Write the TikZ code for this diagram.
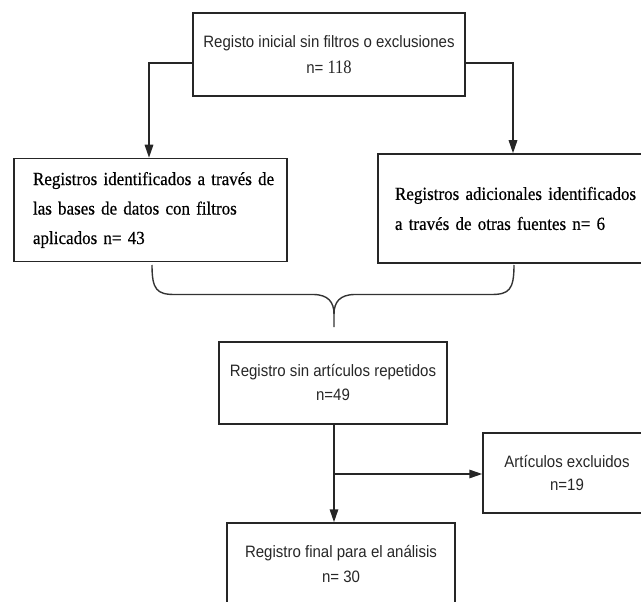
\documentclass[tikz,border=0pt]{standalone}
\usepackage{fontspec}
\usetikzlibrary{arrows.meta}
\newfontfamily\sansf[FakeStretch=0.91]{Liberation Sans}
\newfontfamily\seriff[FakeStretch=0.92,WordSpace=0.7,FakeBold=0.5]{Liberation Serif}
\newfontfamily\digitf[FakeStretch=0.87]{Liberation Serif}
\begin{document}
\begin{tikzpicture}[x=1pt,y=-1pt,
  box/.style={draw=black!85, line width=1.5pt, inner sep=0pt, align=center},
  sbox/.style={box, font=\sansf\fontsize{16.5}{24}\selectfont, text=black!85},
  tbox/.style={box, font=\seriff\fontsize{18.5}{29.5}\selectfont, align=left},
  arr/.style={draw=black!85, line width=1.5pt, -{Triangle[length=13pt,width=8.5pt]}},
  brace/.style={draw=black!80, line width=1.4pt}]
\clip (0,0) rectangle (641,602);
% boxes
\node[sbox, minimum width=272pt, minimum height=83pt,
      font=\sansf\fontsize{16.5}{26}\selectfont] (top) at (329,54.5)
  {Registo inicial sin filtros o exclusiones\\n= {\digitf\fontsize{19}{26}\selectfont 118}};
\node[tbox, minimum width=273pt, minimum height=103pt, text width=235pt] (lbox) at (150.5,210)
  {\mbox{Registros identificados a través de}\\\mbox{las bases de datos con filtros}\\\mbox{aplicados n= 43}};
\node[tbox, minimum width=279pt, minimum height=109pt, text width=245pt,
      font=\seriff\fontsize{18.5}{30}\selectfont] (rbox) at (517.5,208.5)
  {\mbox{Registros adicionales identificados}\\\mbox{a través de otras fuentes n= 6}};
\node[sbox, minimum width=228pt, minimum height=82pt] (mid) at (333,383)
  {Registro sin artículos repetidos\\n=49};
\node[sbox, minimum width=168pt, minimum height=80pt,
      font=\sansf\fontsize{16.5}{23}\selectfont] (exc) at (567,473)
  {Artículos excluidos\\n=19};
\node[sbox, minimum width=228pt, minimum height=83pt,
      font=\sansf\fontsize{16.5}{25}\selectfont] (fin) at (341,564.5)
  {Registro final para el análisis\\n= 30};
% connectors
\coordinate (tl) at (149,63);
\coordinate (tr) at (513,63);
\draw[arr] (top.west |- tl) -- (tl) -- (tl |- lbox.north);
\draw[arr] (top.east |- tr) -- (tr) -- (tr |- rbox.north);
\coordinate (ms) at (334,424);
\coordinate (br) at (334,474);
\draw[arr] (ms |- mid.south) -- (ms |- fin.north);
\draw[arr] (br) -- (br -| exc.west);
% brace
\draw[brace] (152,265) .. controls (152,290) and (157,294.5) .. (175,294.5)
  -- (313,294.5) .. controls (328,294.5) and (334,302) .. (334,314) -- (334,327);
\draw[brace] (514,265) .. controls (514,290) and (509,294.5) .. (491,294.5)
  -- (355,294.5) .. controls (340,294.5) and (334,302) .. (334,314);
\end{tikzpicture}
\end{document}
